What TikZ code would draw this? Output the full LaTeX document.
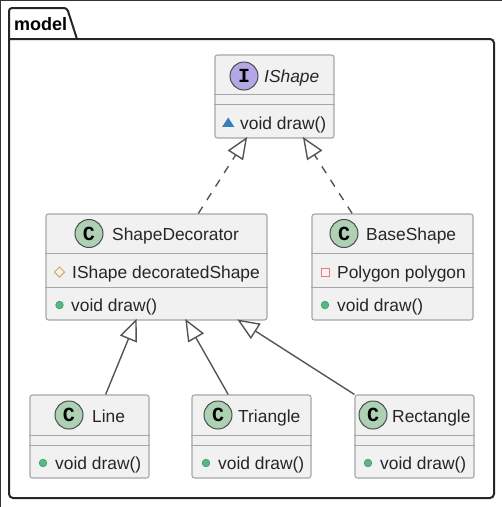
\documentclass[tikz,border=0pt]{standalone}
\usepackage{fontspec}
\setmainfont{Liberation Sans}
\setmonofont{Liberation Mono}
\usetikzlibrary{arrows.meta,shapes.geometric}
\definecolor{boxfill}{HTML}{F1F1F1}
\definecolor{boxline}{HTML}{A6A6A6}
\definecolor{classfill}{HTML}{ADD1B2}
\definecolor{ifacefill}{HTML}{B4A7E5}
\definecolor{linkline}{HTML}{555555}
\definecolor{pubcolor}{HTML}{3FA86E}
\definecolor{pkgcolor}{HTML}{3A7DBB}
\definecolor{protcolor}{HTML}{CFAE62}
\definecolor{privcolor}{HTML}{DF7C84}
\tikzset{
	classbox/.style={draw=boxline,fill=boxfill,line width=1.1pt,rounded corners=2.5pt,inner sep=0pt},
	badge/.style={circle,draw=black!70,line width=1pt,minimum size=28pt,inner sep=0pt,font=\fontsize{20}{20}\ttfamily\bfseries},
	title/.style={anchor=base west,inner sep=0pt,text=black!85,font=\fontsize{17.4}{18}\selectfont},
	member/.style={anchor=base west,inner sep=0pt,text=black!85,font=\fontsize{17.4}{18}\selectfont},
	pubmark/.style={circle,draw=pubcolor,fill=pubcolor!85,line width=0.8pt,minimum size=7.5pt,inner sep=0pt},
	divider/.style={draw=boxline,line width=1.1pt},
	realize/.style={draw=linkline,line width=1.4pt,shorten >=-2pt,dash pattern=on 8pt off 8pt,-{Triangle[open,fill=white,length=22pt,width=18pt,line width=1.4pt]}},
	extend/.style={draw=linkline,line width=1.4pt,shorten >=-2pt,-{Triangle[open,fill=white,length=22pt,width=18pt,line width=1.4pt]}}
}
\begin{document}
\begin{tikzpicture}[x=1pt,y=-1pt]
	\useasboundingbox (0,0) rectangle (502,507);
	% screenshot edge
	\draw [black!80,line width=1.5pt] (0,507) -- (0,0) -- (502,0);
	% package
	\draw [black!85,line width=2pt,rounded corners=3pt] (9,39) -- (9,8) -- (67,8) -- (77,39);
	\draw [black!85,line width=2pt,rounded corners=4pt] (9,39) -- (9,498) -- (494,498) -- (494,39) -- (9,39);
	\node [anchor=base west,inner sep=0pt,font=\fontsize{18}{18}\bfseries\selectfont] (pkgname) at (14,30.5) {model};
	% classes
	\node [classbox,minimum width=119pt,minimum height=83pt] (ishape) at (274.5,96.5) {};
	\node [classbox,minimum width=221pt,minimum height=106pt] (decorator) at (156.5,267) {};
	\node [classbox,minimum width=161pt,minimum height=106pt] (baseshape) at (392.5,267) {};
	\node [classbox,minimum width=119pt,minimum height=83pt] (line) at (89.5,436.5) {};
	\node [classbox,minimum width=119pt,minimum height=83pt] (triangle) at (251.5,436.5) {};
	\node [classbox,minimum width=119pt,minimum height=83pt] (rectangle) at (414.5,436.5) {};
	% dividers
	\foreach \cls/\upper/\lower in {ishape/94.5/104.5,decorator/253.5/287.5,baseshape/253.5/287.5,line/435.5/445.5,triangle/435.5/445.5,rectangle/435.5/445.5} {
		\draw [divider] (\cls.west |- 0,\upper) -- (\cls.east |- 0,\upper);
		\draw [divider] (\cls.west |- 0,\lower) -- (\cls.east |- 0,\lower);
	}
	% badges and names
	\node [badge,fill=ifacefill] (ishapebadge) at (244,76) {I};
	\node [title,font=\fontsize{17.4}{18}\itshape\selectfont] (ishapename) at (264,82) {IShape};
	\foreach \cls/\x/\y/\tx/\name in {decorator/89/233.5/112/ShapeDecorator,baseshape/344/233.5/366/BaseShape,line/69/415/92/Line,triangle/218/415/238/Triangle,rectangle/373/415/392/Rectangle} {
		\node [badge,fill=classfill] (\cls badge) at (\x,\y) {C};
		\node [title] (\cls name) at (\tx,\y+7) {\name};
	}
	% members
	\node [member] (ishapedraw) at (240,129) {void draw()};
	\node [isosceles triangle,isosceles triangle apex angle=66,shape border rotate=90,fill=pkgcolor,minimum height=9pt,minimum width=12pt,inner sep=0pt] (ishapemark) at (228.2,123.5) {};
	\node [member] (decoratorfield) at (72,278) {IShape decoratedShape};
	\node [draw=protcolor,line width=1pt,diamond,minimum size=10.5pt,inner sep=0pt] (decoratormark) at (59.5,272) {};
	\node [member] (basefield) at (337,278) {Polygon polygon};
	\node [draw=privcolor,fill=red!5,line width=1pt,minimum size=8pt,inner sep=0pt] (basemark) at (325.5,272) {};
	\foreach \cls/\mx/\tx/\y in {decorator/59.5/71/305,baseshape/325/337/305,line/43/55/463,triangle/206/218/463,rectangle/368/380/463} {
		\node [pubmark] (\cls pub) at (\mx,\y) {};
		\node [member] (\cls draw) at (\tx,\y+6) {void draw()};
	}
	% links
	\draw [realize] (decorator.52.6) -- (ishape.-124.5);
	\draw [realize] (baseshape.127.4) -- (ishape.-55.5);
	\draw [extend] (line.69) -- (decorator.-111);
	\draw [extend] (triangle.119) -- (decorator.-61);
	\draw [extend] (rectangle.north west) -- (decorator.-33.7);
\end{tikzpicture}
\end{document}
